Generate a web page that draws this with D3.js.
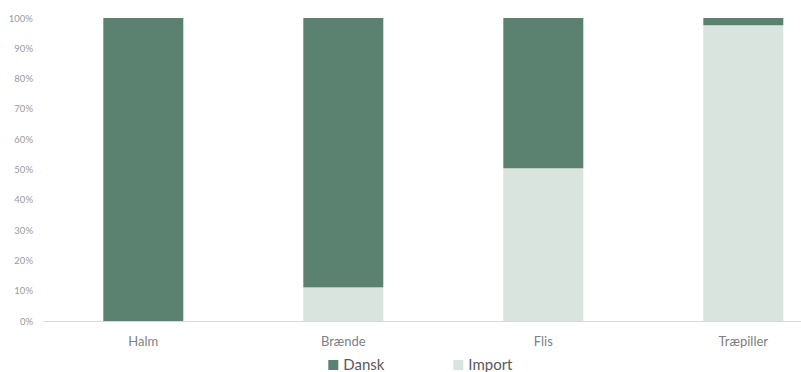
<!DOCTYPE html>
<html>
<head>
<meta charset="utf-8">
<script src="https://cdn.jsdelivr.net/npm/d3@7"></script>
<style>
  html, body { margin: 0; padding: 0; background: #ffffff; }
  svg { display: block; }
  text { font-family: Lato, "Open Sans", sans-serif; }
</style>
</head>
<body>
<svg id="chart" width="801" height="372"></svg>
<script>
// Share of domestic vs imported biomass per fuel type
const categories = ["Halm", "Brænde", "Flis", "Træpiller"];
const importShare = [0.0, 0.111, 0.504, 0.976];
const danskShare = [1.0, 0.889, 0.496, 0.024];
const seriesNames = ["Dansk", "Import"];
const yTicks = [0, 0.1, 0.2, 0.3, 0.4, 0.5, 0.6, 0.7, 0.8, 0.9, 1.0];

const colors = { Dansk: "#5b8270", Import: "#dae4df" };

const svg = d3.select("#chart");
const W = 801, H = 372;
const plot = { left: 43.3, right: 843.3, top: 18, bottom: 321 };

const x = d3.scaleBand()
  .domain(categories)
  .range([plot.left, plot.right])
  .paddingInner(0.6)
  .paddingOuter(0.3);

const y = d3.scaleLinear()
  .domain([0, 1])
  .range([plot.bottom, plot.top]);

// Stack: Import at the bottom, Dansk on top
const rows = categories.map((c, i) => ({ cat: c, Import: importShare[i], Dansk: danskShare[i] }));
const stack = d3.stack().keys(["Import", "Dansk"])(rows);

const g = svg.append("g");
stack.forEach(layer => {
  g.append("g")
    .attr("fill", colors[layer.key])
    .selectAll("rect")
    .data(layer)
    .join("rect")
    .attr("x", d => x(d.data.cat))
    .attr("width", x.bandwidth())
    .attr("y", d => y(d[1]))
    .attr("height", d => Math.max(0, y(d[0]) - y(d[1])));
});

// Y axis labels (no axis line, no gridlines)
const yAxis = d3.axisLeft(y)
  .tickValues(yTicks)
  .tickFormat(d3.format(".0%"))
  .tickSize(0)
  .tickPadding(0);
const ya = svg.append("g")
  .attr("transform", `translate(33,0)`)
  .call(yAxis);
ya.select(".domain").remove();
ya.selectAll("text")
  .attr("fill", "#9a9a9a")
  .style("font-size", "9.5px")
  .style("font-family", "Lato, 'Open Sans', sans-serif");

// X axis baseline and category labels
svg.append("line")
  .attr("x1", plot.left).attr("x2", W)
  .attr("y1", y(0) + 0.5).attr("y2", y(0) + 0.5)
  .attr("stroke", "#d9d9d9")
  .attr("stroke-width", 1);

const xAxis = d3.axisBottom(x).tickSize(0).tickPadding(0);
const xa = svg.append("g")
  .attr("transform", `translate(0,${y(0)})`)
  .call(xAxis);
xa.select(".domain").remove();
xa.selectAll("text")
  .attr("dy", null)
  .attr("y", 25)
  .attr("fill", "#7f7f7f")
  .style("font-size", "13px")
  .style("font-family", "Lato, 'Open Sans', sans-serif");

// Legend
const legendX = [328.3, 453.3];
const legend = svg.append("g");
seriesNames.forEach((name, i) => {
  legend.append("rect")
    .attr("x", legendX[i]).attr("y", 360)
    .attr("width", 10).attr("height", 10)
    .attr("fill", colors[name]);
  legend.append("text")
    .attr("x", legendX[i] + 15).attr("y", 370)
    .attr("fill", "#595959")
    .style("font-size", "15px")
    .text(name);
});
</script>
</body>
</html>
